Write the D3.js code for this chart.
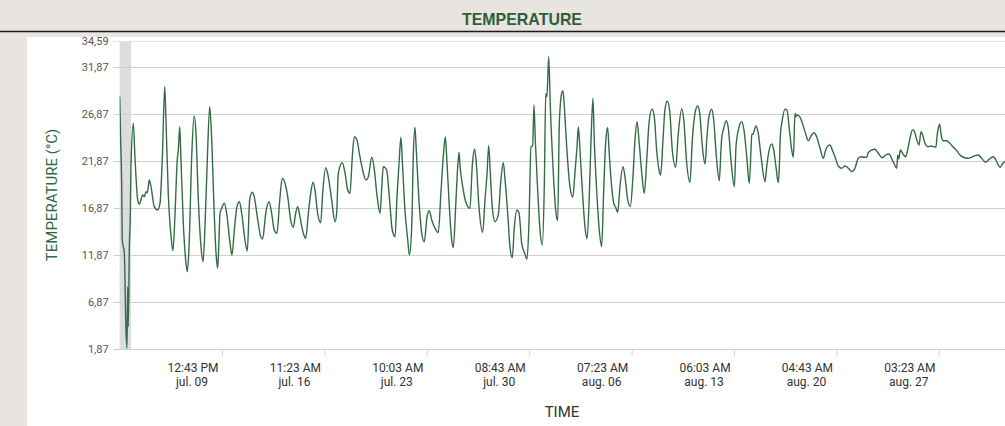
<!DOCTYPE html>
<html><head><meta charset="utf-8">
<script src="https://cdn.jsdelivr.net/npm/d3@7"></script>
<style>
html,body{margin:0;padding:0;background:#e8e4df;overflow:hidden;}
svg{display:block;font-family:Roboto,"Noto Sans",sans-serif;}
</style></head><body>
<svg id="chart" width="1005" height="426"></svg>
<script>
// ---- data ----
const seriesStart = new Date(2023, 6, 2, 14, 3); // first sample
const elapsedDays = [0.01,0.07,0.14,0.18,0.32,0.43,0.50,0.55,0.59,0.66,0.73,0.77,0.93,1.04,1.23,1.34,1.57,1.68,1.79,1.88,2.01,2.13,2.35,2.58,2.74,2.90,3.06,3.13,3.30,3.49,3.62,3.76,3.91,3.98,4.08,4.14,4.32,4.48,4.59,4.71,4.89,5.05,5.18,5.34,5.52,5.66,5.79,5.97,6.11,6.25,6.40,6.54,6.65,6.74,6.81,6.92,7.10,7.26,7.49,7.62,7.78,7.96,8.12,8.28,8.50,8.66,8.82,9.00,9.13,9.37,9.57,9.70,9.91,10.13,10.31,10.49,10.67,10.86,11.03,11.22,11.40,11.60,11.78,11.94,12.08,12.23,12.46,12.62,12.80,12.96,13.12,13.25,13.43,13.64,13.77,13.98,14.15,14.38,14.61,14.72,14.83,15.10,15.29,15.47,15.62,15.78,15.92,16.08,16.30,16.53,16.71,16.87,17.10,17.25,17.44,17.66,17.77,17.88,18.11,18.29,18.49,18.68,18.81,18.95,19.08,19.17,19.35,19.54,19.65,19.81,19.92,20.03,20.12,20.30,20.49,20.66,20.85,21.00,21.17,21.39,21.61,21.80,21.95,22.09,22.18,22.36,22.52,22.63,22.79,22.93,23.02,23.08,23.27,23.47,23.76,23.92,24.08,24.19,24.37,24.62,24.78,24.92,25.03,25.14,25.27,25.46,25.68,25.84,26.02,26.14,26.32,26.47,26.63,26.77,26.95,27.09,27.27,27.47,27.63,27.76,27.90,28.01,28.10,28.19,28.35,28.51,28.67,28.80,28.90,28.98,29.10,29.21,29.39,29.57,29.71,29.82,29.98,30.07,30.16,30.32,30.54,30.73,30.88,31.02,31.11,31.22,31.38,31.56,31.70,31.85,31.97,32.10,32.19,32.35,32.53,32.69,32.83,32.96,33.10,33.19,33.33,33.51,33.64,33.78,33.93,34.14,34.27,34.46,34.63,34.80,34.95,35.09,35.22,35.41,35.58,35.75,35.90,36.10,36.26,36.42,36.60,36.69,36.85,36.98,37.14,37.30,37.48,37.71,37.89,38.12,38.26,38.46,38.68,38.84,39.02,39.20,39.34,39.52,39.70,39.83,39.97,40.15,40.29,40.47,40.67,40.78,40.83,40.97,41.14,41.28,41.46,41.69,41.80,41.85,42.00,42.19,42.34,42.53,42.70,42.82,42.87,42.95,43.15,43.31,43.50,43.77,43.86,43.99,44.22,44.36,44.51,44.67,44.74,44.81,44.94,45.12,45.26,45.40,45.58,45.69,45.80,45.85,45.94,46.12,46.30,46.53,46.70,46.93,47.11,47.27,47.50,47.72,47.88,48.02,48.18,48.33,48.51,48.74,48.97,49.19,49.42,49.65,49.87,50.09,50.28,50.50,50.66,50.77,51.00,51.22,51.45,51.72,51.95,52.18,52.40,52.54,52.70,52.77,52.85,52.94,53.08,53.17,53.31,53.44,53.60,53.76,53.89,54.03,54.21,54.35,54.46,54.62,54.80,55.02,55.21,55.36,55.43,55.52,55.61,55.75,55.86,56.09,56.31,56.54,56.77,56.99,57.22,57.51,57.78,58.01,58.23,58.46,58.73,58.96,59.25,59.43,59.59,59.72,59.86,60.04];
const temperatures = [28.67,24.07,19.47,13.45,12.07,3.89,1.97,8.49,4.24,12.74,16.29,21.24,25.85,22.30,17.70,17.27,18.23,18.05,18.58,18.47,19.82,19.11,16.99,16.64,17.35,22.30,29.74,26.91,18.41,13.80,12.31,16.29,21.95,23.01,25.49,23.01,15.22,11.33,10.08,12.74,22.30,26.62,24.79,17.70,12.74,11.14,14.86,23.01,27.61,24.07,16.99,12.04,10.44,13.45,16.29,16.82,17.35,16.29,13.10,11.86,14.51,16.99,17.52,16.29,13.45,12.28,17.70,18.52,18.05,15.57,13.80,13.56,16.29,17.52,16.29,14.51,14.16,17.70,20.00,19.47,18.05,15.57,14.80,16.29,16.99,15.93,14.16,13.63,16.29,18.41,19.58,18.76,16.29,15.29,18.41,21.13,20.18,17.70,15.39,16.29,20.54,21.66,20.54,18.76,18.41,22.30,24.42,24.15,22.30,20.54,19.82,20.18,22.24,21.24,18.41,16.29,18.76,21.24,20.89,18.05,14.51,13.80,18.05,21.60,24.36,21.95,16.64,13.45,11.86,14.86,22.48,25.42,23.01,17.70,14.16,13.27,15.93,16.56,15.57,14.69,14.23,18.76,22.30,24.42,22.30,16.99,13.45,12.63,16.99,21.24,22.77,21.42,19.11,17.52,16.82,21.42,23.09,21.60,16.99,14.27,17.70,20.54,23.47,20.54,16.99,15.39,16.11,19.47,21.66,19.82,16.29,12.74,11.57,14.86,16.64,16.29,13.10,12.04,11.43,15.22,23.36,23.44,27.79,24.07,18.76,14.51,12.92,19.11,29.03,28.67,32.92,27.61,21.24,16.64,15.50,25.85,29.03,29.31,27.61,23.36,19.11,17.99,20.54,23.36,25.49,23.01,18.76,14.86,13.56,18.05,24.07,28.50,24.07,18.76,14.51,12.74,18.76,23.72,25.38,23.01,19.82,17.35,16.92,16.39,19.11,21.24,20.18,17.70,16.99,19.82,24.07,26.02,24.07,20.54,18.41,21.95,25.85,27.37,26.55,23.01,20.71,20.36,24.07,27.26,28.19,27.26,23.01,21.17,24.79,27.37,26.20,21.60,19.58,24.07,26.91,27.69,26.91,23.36,21.52,24.42,26.55,27.34,26.20,22.30,19.75,23.01,24.25,25.32,26.12,25.32,21.95,19.11,23.36,24.15,25.42,26.02,25.14,22.30,19.47,23.01,24.71,24.68,25.56,24.79,22.30,19.64,20.89,22.48,23.65,23.01,21.24,19.54,21.24,24.60,26.20,27.34,27.26,25.49,23.01,22.24,26.91,26.55,26.73,26.55,25.85,24.71,24.00,24.60,24.85,24.42,23.19,22.13,23.01,23.44,23.54,23.01,22.30,21.31,21.07,21.31,21.07,20.71,21.07,22.13,22.30,22.24,22.24,22.72,23.01,23.09,22.66,22.19,22.48,22.59,21.95,21.52,21.07,22.48,22.06,23.01,22.72,22.48,22.30,23.01,24.25,25.14,25.03,24.25,23.54,24.96,24.60,23.72,23.36,23.44,23.36,23.30,24.42,25.32,25.74,24.25,24.00,24.00,23.72,23.30,22.94,22.48,22.24,22.13,22.24,22.41,22.48,22.13,21.71,22.02,22.30,21.95,21.42,21.17,21.52,21.77];
const highlightDays = [0, 0.78];          // shaded band at start
const yDomain = [1.87, 34.59];
const yTickValues = [1.87, 6.87, 11.87, 16.87, 21.87, 26.87, 31.87, 34.59];
const xTickStepMinutes = 10000;
const xTickTimes = ["12:43 PM","11:23 AM","10:03 AM","08:43 AM","07:23 AM","06:03 AM","04:43 AM","03:23 AM"];
const xTickDates = ["jul. 09","jul. 16","jul. 23","jul. 30","aug. 06","aug. 13","aug. 20","aug. 27"];
const chartTitle = "TEMPERATURE";
const yTitle = "TEMPERATURE (°C)";
const xTitle = "TIME";

// ---- layout ----
const W = 1005, H = 426;
const plot = {left: 119.6, right: 1005, top: 41, bottom: 349};
const DAY = 86400000;
const svg = d3.select("#chart");

// backgrounds
svg.append("rect").attr("x",0).attr("y",0).attr("width",W).attr("height",H).attr("fill","#e8e4df");
svg.append("rect").attr("x",27).attr("y",37).attr("width",W-27).attr("height",H-37).attr("fill","#ffffff");
svg.append("line").attr("x1",0).attr("x2",W).attr("y1",31.5).attr("y2",31.5).attr("stroke","#1a1a1a").attr("stroke-width",1.5);
svg.append("text").attr("x",522).attr("y",25).attr("text-anchor","middle")
  .attr("font-family","'Liberation Sans Narrow','Arial Narrow',sans-serif").attr("font-weight","bold")
  .attr("font-size",17).attr("fill","#2d5e3a").attr("textLength",120).attr("lengthAdjust","spacingAndGlyphs")
  .text(chartTitle);

const endDays = (plot.right - plot.left) / 14.746;
const x = d3.scaleTime()
  .domain([seriesStart, new Date(+seriesStart + endDays*DAY)])
  .range([plot.left, plot.right]);
const y = d3.scaleLinear().domain(yDomain).range([plot.bottom, plot.top]);

// highlight band
svg.append("rect")
  .attr("x", x(new Date(+seriesStart + highlightDays[0]*DAY)))
  .attr("y", plot.top)
  .attr("width", x(new Date(+seriesStart + highlightDays[1]*DAY)) - x(new Date(+seriesStart + highlightDays[0]*DAY)))
  .attr("height", plot.bottom - plot.top)
  .attr("fill", "#dddddd");

// gridlines
svg.append("g").selectAll("line").data(yTickValues).join("line")
  .attr("x1", plot.left - 6).attr("x2", plot.right)
  .attr("y1", d => Math.round(y(d)) + 0.5).attr("y2", d => Math.round(y(d)) + 0.5)
  .attr("stroke", d => d === yDomain[1] ? "#e2e2e2" : "#cfcfcf").attr("stroke-width", 1);

// y axis labels
const yAxis = d3.axisLeft(y).tickValues(yTickValues).tickSize(0).tickPadding(11)
  .tickFormat(d => d3.format(".2f")(d).replace(".", ","));
const gy = svg.append("g").attr("transform", `translate(${plot.left},0)`).call(yAxis);
gy.select(".domain").remove();
gy.selectAll("text").attr("font-size", 11).attr("fill", "#555").attr("font-family", "Roboto,sans-serif");

// x axis
const tickDates = xTickTimes.map((_, i) => new Date(+seriesStart + (i+1)*xTickStepMinutes*60000));
const xAxis = d3.axisBottom(x).tickValues(tickDates).tickSizeInner(7).tickSizeOuter(0).tickFormat("");
const gx = svg.append("g").attr("transform", `translate(0,${plot.bottom})`).call(xAxis);
gx.select(".domain").attr("stroke", "#cfcfcf");
gx.selectAll(".tick line").attr("stroke", "#d4d4d4");
const lbl = svg.append("g").selectAll("text").data(tickDates).join("text")
  .attr("text-anchor", "middle").attr("font-size", 12).attr("fill", "#333")
  .attr("transform", d => `translate(${x(d) - 29},0)`);
lbl.append("tspan").attr("x", 0).attr("y", 372).text((d, i) => xTickTimes[i]);
lbl.append("tspan").attr("x", -1).attr("y", 386).text((d, i) => xTickDates[i]);

// axis titles
svg.append("text").attr("x", 562).attr("y", 417).attr("text-anchor", "middle")
  .attr("font-size", 15).attr("fill", "#333").text(xTitle);
svg.append("text").attr("transform", "translate(57,195) rotate(-90)").attr("text-anchor", "middle")
  .attr("font-size", 15).attr("fill", "#2e6b45").text(yTitle);

// line
svg.append("clipPath").attr("id", "clip").append("rect")
  .attr("x", plot.left).attr("y", plot.top - 2).attr("width", plot.right - plot.left).attr("height", plot.bottom - plot.top + 4);
const data = d3.zip(elapsedDays, temperatures).map(([d, t]) => ({date: new Date(+seriesStart + d*DAY), t}));
const line = d3.line().x(d => x(d.date)).y(d => y(d.t)).curve(d3.curveMonotoneX);
svg.append("path").datum(data).attr("clip-path", "url(#clip)")
  .attr("fill", "none").attr("stroke", "#336b45").attr("stroke-width", 1.4).attr("stroke-linejoin", "round")
  .attr("d", line);
</script>
</body></html>
